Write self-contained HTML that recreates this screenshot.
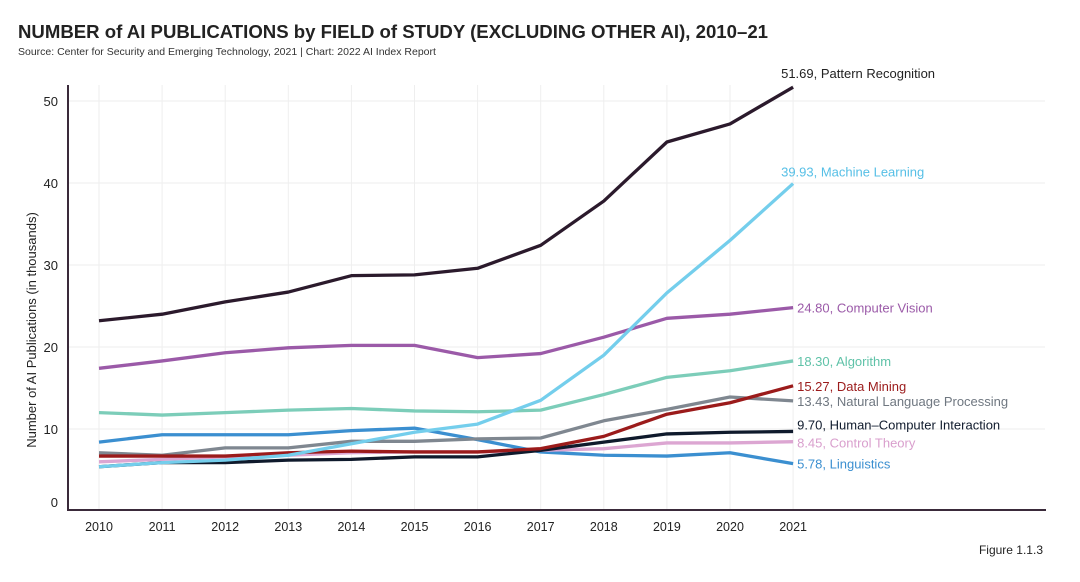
<!DOCTYPE html>
<html><head><meta charset="utf-8"><style>
body{margin:0;background:#fff;font-family:"Liberation Sans",sans-serif;}
svg text{font-family:"Liberation Sans",sans-serif;}
</style></head><body>
<svg width="1080" height="577">
<text x="18" y="38" font-size="18.6" font-weight="bold" fill="#222">NUMBER of AI PUBLICATIONS by FIELD of STUDY (EXCLUDING OTHER AI), 2010–21</text>
<text x="18" y="55" font-size="10.5" fill="#333">Source: Center for Security and Emerging Technology, 2021 | Chart: 2022 AI Index Report</text>
<text transform="translate(36,330) rotate(-90)" text-anchor="middle" font-size="13" fill="#222">Number of AI Publications (in thousands)</text>
<text x="1043" y="554" text-anchor="end" font-size="12" fill="#222">Figure 1.1.3</text>
<g id="grid"></g><g id="series"></g><g id="axes"></g>
</svg>
<script>
const years=[2010,2011,2012,2013,2014,2015,2016,2017,2018,2019,2020,2021];
const yTicks=[0,10,20,30,40,50];
const patternRecognition=[23.2,24.0,25.5,26.7,28.7,28.8,29.6,32.4,37.8,45.0,47.2,51.69];
const machineLearning=[5.4,5.9,6.2,6.8,8.2,9.6,10.6,13.5,19.0,26.6,33.0,39.93];
const computerVision=[17.4,18.3,19.3,19.9,20.2,20.2,18.7,19.2,21.2,23.5,24.0,24.80];
const algorithm=[12.0,11.7,12.0,12.3,12.5,12.2,12.1,12.3,14.2,16.3,17.1,18.30];
const dataMining=[6.7,6.7,6.7,7.1,7.3,7.2,7.2,7.6,9.1,11.8,13.2,15.27];
const nlp=[7.1,6.8,7.7,7.7,8.5,8.5,8.8,8.9,11.0,12.4,13.9,13.43];
const hci=[5.4,5.9,5.9,6.2,6.3,6.6,6.6,7.4,8.4,9.4,9.6,9.70];
const controlTheory=[6.0,6.3,6.6,6.8,7.1,7.2,7.2,7.4,7.6,8.3,8.3,8.45];
const linguistics=[8.4,9.3,9.3,9.3,9.8,10.1,8.7,7.2,6.8,6.7,7.1,5.78];
const seriesNames=["Pattern Recognition","Machine Learning","Computer Vision","Algorithm","Data Mining","Natural Language Processing","Human–Computer Interaction","Control Theory","Linguistics"];
const seriesVals=[patternRecognition,machineLearning,computerVision,algorithm,dataMining,nlp,hci,controlTheory,linguistics];
const colors=["#2b1a2c","#74ceec","#9b5aa8","#7ccdb9","#9b1b1b","#7f8790","#0f1a2c","#dca6d2","#3b8fd0"];
const labelColors=["#222","#56bfe6","#9b5aa8","#5fc2a8","#9b1b1b","#6f7780","#0f1a2c","#d99fcd","#3b8fd0"];
const ns="http://www.w3.org/2000/svg";
const X=i=>99+i*63.1, Y=v=>511-v*8.2;
function mk(t,a,p){const e=document.createElementNS(ns,t);for(const k in a)e.setAttribute(k,a[k]);p.appendChild(e);return e;}
const g=document.getElementById('grid'),s=document.getElementById('series'),ax=document.getElementById('axes');
years.forEach((yr,i)=>{
 const l=mk('line',{x1:X(i),x2:X(i),y1:85,y2:510,stroke:'#eeeeee'},g);
 
 
 const t=mk('text',{x:X(i),y:531,'text-anchor':'middle','font-size':12.5,fill:'#222'},ax);t.textContent=yr;
 
 
});
yTicks.forEach(v=>{
 if(v>0){const l=mk('line',{x1:68,x2:1045,y1:Y(v),y2:Y(v),stroke:'#eeeeee'},g);
 
 }
 const t=mk('text',{x:58,y:v===0?507:Y(v)+5,'text-anchor':'end','font-size':13,fill:'#222'},ax);t.textContent=v;
 
 
});
const a1=mk('line',{x1:68,x2:68,y1:85,y2:511,stroke:'#3a2a3a','stroke-width':2},ax);


const a2=mk('line',{x1:67,x2:1046,y1:510,y2:510,stroke:'#3a2a3a','stroke-width':2},ax);


const labelOff=[-14,-12,0,0,0,0,-7,1,0];
for(let k=seriesVals.length-1;k>=0;k--){
 const vals=seriesVals[k];
 const p=mk('polyline',{points:vals.map((v,i)=>X(i)+','+Y(v)).join(' '),fill:'none',stroke:colors[k],'stroke-width':3.3,'stroke-linejoin':'round'},s);
 
 
 const last=vals[vals.length-1];
 const t=mk('text',{x:X(11)+(k<2?-12:4),y:Y(last)+5+labelOff[k],'font-size':13,fill:labelColors[k]},s);
 t.textContent=last.toFixed(2)+', '+seriesNames[k];
 
 
}
</script>
</body></html>
